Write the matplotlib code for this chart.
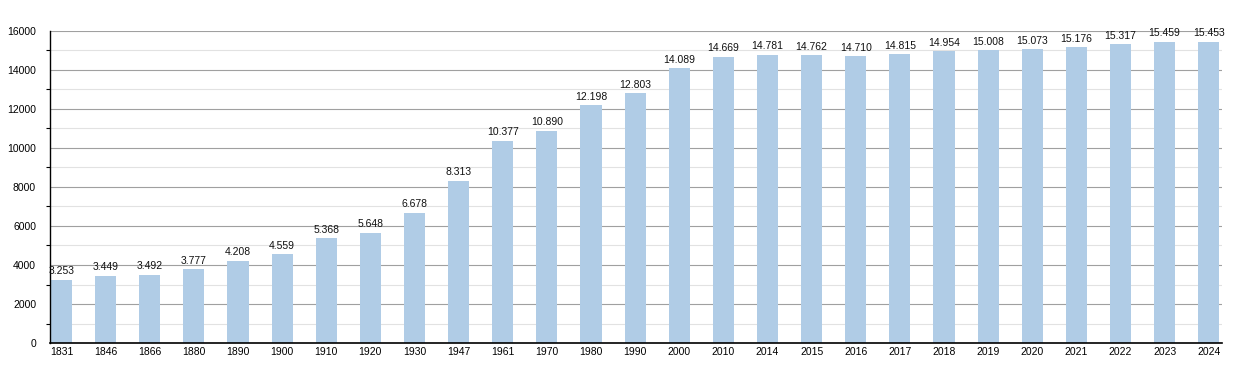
import matplotlib.pyplot as plt
import numpy as np
from matplotlib.ticker import MultipleLocator

years = ['1831', '1846', '1866', '1880', '1890', '1900', '1910', '1920', '1930',
         '1947', '1961', '1970', '1980', '1990', '2000', '2010', '2014', '2015',
         '2016', '2017', '2018', '2019', '2020', '2021', '2022', '2023', '2024']
population = [3253, 3449, 3492, 3777, 4208, 4559, 5368, 5648, 6678,
              8313, 10377, 10890, 12198, 12803, 14089, 14669, 14781, 14762,
              14710, 14815, 14954, 15008, 15073, 15176, 15317, 15459, 15453]

plt.rcParams['font.family'] = ['Liberation Sans', 'DejaVu Sans']

fig = plt.figure(figsize=(12.5, 3.73), dpi=100)
ax = fig.add_axes([0.04, 0.0804, 0.9376, 0.8366])

x = np.arange(len(years))
ax.bar(x, population, width=0.48, color='#b0cce6', zorder=2)

for xi, v in zip(x, population):
    label = '{:,}'.format(v).replace(',', '.')
    ax.text(xi, v + 180, label, ha='center', va='bottom', fontsize=7.5,
            color='#111111', zorder=3)

ax.set_xlim(-0.26, len(years) - 1 + 0.3)
ax.set_ylim(0, 16000)
ax.set_xticks(x)
ax.set_xticklabels(years)
ax.yaxis.set_major_locator(MultipleLocator(2000))
ax.yaxis.set_minor_locator(MultipleLocator(1000))

ax.grid(axis='y', which='major', color='#a0a0a0', linewidth=0.8, zorder=0)
ax.grid(axis='y', which='minor', color='#e2e2e2', linewidth=0.8, zorder=0)

ax.tick_params(axis='x', length=0, labelsize=7.5, pad=3)
ax.tick_params(axis='y', which='major', length=0, labelsize=7.5, pad=10)
ax.tick_params(axis='y', which='minor', length=3, width=0.8)

for s in ['top', 'right']:
    ax.spines[s].set_visible(False)
ax.spines['left'].set_linewidth(1.0)
ax.spines['bottom'].set_linewidth(1.2)

fig.savefig('out.png', dpi=100)
